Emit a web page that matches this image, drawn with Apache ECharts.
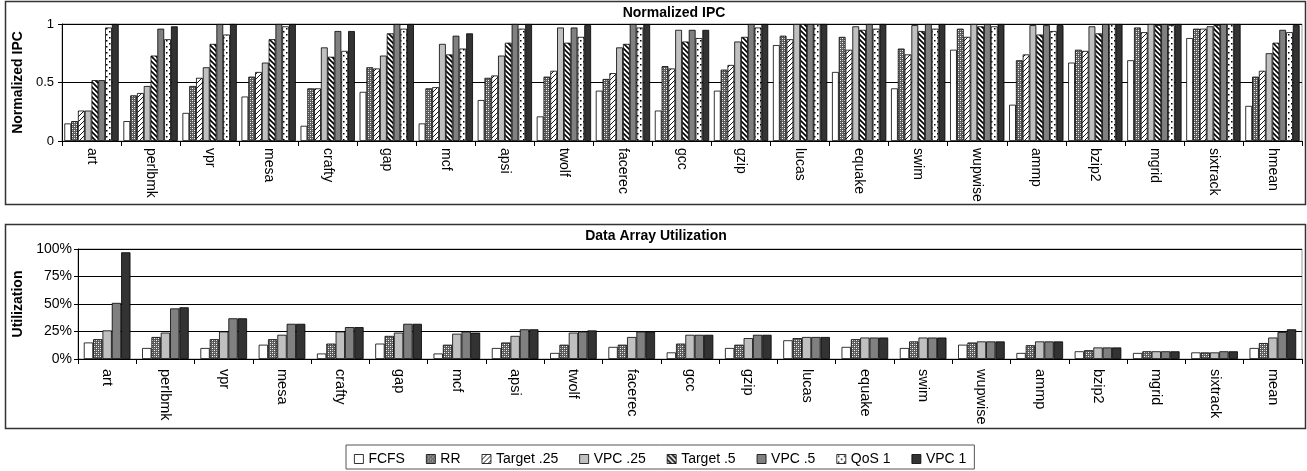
<!DOCTYPE html>
<html><head><meta charset="utf-8">
<script src="https://cdn.jsdelivr.net/npm/echarts@6/dist/echarts.min.js"></script>
<style>html,body{margin:0;padding:0;background:#fff}#c{width:1307px;height:471px}</style>
</head><body><div id="c"></div>
<script>
const categoriesIPC = ['art','perlbmk','vpr','mesa','crafty','gap','mcf','apsi','twolf','facerec','gcc','gzip','lucas','equake','swim','wupwise','ammp','bzip2','mgrid','sixtrack','hmean'];
const categoriesUtil = ['art','perlbmk','vpr','mesa','crafty','gap','mcf','apsi','twolf','facerec','gcc','gzip','lucas','equake','swim','wupwise','ammp','bzip2','mgrid','sixtrack','mean'];
const seriesNames = ['FCFS','RR','Target .25','VPC .25','Target .5','VPC .5','QoS 1','VPC 1'];
const ipcTicks = [0, 0.5, 1];
const utilTicks = [0, 25, 50, 75, 100];

const ipcFCFS     = [0.15,0.17,0.24,0.38,0.13,0.42,0.15,0.35,0.21,0.43,0.26,0.43,0.82,0.59,0.45,0.78,0.31,0.67,0.69,0.88,0.30];
const ipcRR       = [0.17,0.39,0.47,0.55,0.45,0.63,0.45,0.54,0.55,0.53,0.64,0.61,0.90,0.89,0.79,0.96,0.69,0.78,0.97,0.96,0.55];
const ipcTarget25 = [0.26,0.41,0.54,0.59,0.45,0.62,0.46,0.56,0.60,0.58,0.62,0.65,0.87,0.78,0.74,0.89,0.74,0.77,0.93,0.96,0.60];
const ipcVPC25    = [0.26,0.47,0.63,0.67,0.80,0.73,0.83,0.73,0.97,0.80,0.95,0.85,1.00,0.98,0.99,1.00,0.99,0.98,1.00,0.98,0.75];
const ipcTarget5  = [0.52,0.73,0.83,0.87,0.72,0.92,0.74,0.84,0.84,0.83,0.85,0.89,1.00,0.95,0.94,0.98,0.91,0.92,0.99,0.99,0.84];
const ipcVPC5     = [0.52,0.96,1.00,1.00,0.94,1.00,0.90,1.00,0.97,1.00,0.95,1.00,1.00,1.00,1.00,1.00,0.99,1.00,1.00,1.00,0.95];
const ipcQoS1     = [0.97,0.87,0.91,0.98,0.77,0.96,0.79,0.96,0.89,0.97,0.88,0.97,1.00,0.96,0.96,0.98,0.94,1.00,0.99,1.00,0.93];
const ipcVPC1     = [1.00,0.98,1.00,1.00,0.94,1.00,0.92,1.00,0.99,1.00,0.95,1.00,1.00,1.00,1.00,1.00,0.99,1.00,1.00,1.00,0.99];

const utilFCFS  = [15,10,10,13,5,14,5,10,5.5,11,6,10,17,11,10,13,5.5,7,5.5,6,10];
const utilRR    = [18,20,18,18,14,21,13,15,13,13,14,13,19,18,16,15,12.5,8,7,6,14.5];
const utilVPC25 = [26,24,25,22,25,24,23,21,24,20,22,19,20,19.5,19.5,16,16,10.5,7,6,19.5];
const utilVPC5  = [51,46,37,32,29,32,25,27,25,25,22,22,20,19.5,19.5,16,16,10.5,7,7,24.5];
const utilVPC1  = [97,47,37,32,29,32,24,27,26,25,22,22,20,19.5,19.5,16,16,10.5,7,7,27];

function pat(size, draw){
  const c=document.createElement('canvas'); c.width=c.height=size;
  const g=c.getContext('2d'); g.fillStyle='#fff'; g.fillRect(0,0,size,size); draw(g,size);
  return {image:c, repeat:'repeat'};
}
const fills = {
  'FCFS':'#ffffff',
  'RR': pat(4,(g)=>{g.fillStyle='#5a5a5a';g.fillRect(0,0,4,4);g.fillStyle='#ffffff';g.fillRect(0,0,1,1);g.fillRect(2,2,1,1);g.fillStyle='#b4b4b4';g.fillRect(2,0,1,1);g.fillRect(0,2,1,1);}),
  'Target .25': pat(5,(g,s)=>{g.strokeStyle='#000';g.lineWidth=0.9;g.beginPath();g.moveTo(-1,s+1);g.lineTo(s+1,-1);g.moveTo(-2,2);g.lineTo(2,-2);g.moveTo(s-2,s+2);g.lineTo(s+2,s-2);g.stroke();}),
  'VPC .25':'#c0c0c0',
  'Target .5': pat(5,(g,s)=>{g.strokeStyle='#000';g.lineWidth=1.6;g.beginPath();g.moveTo(-1,-1);g.lineTo(s+1,s+1);g.moveTo(-2,s-2);g.lineTo(2,s+2);g.moveTo(s-2,-2);g.lineTo(s+2,2);g.stroke();}),
  'VPC .5':'#808080',
  'QoS 1': pat(6,(g)=>{g.fillStyle='#000';g.fillRect(1,1,1.5,1.5);g.fillRect(4,4,1.5,1.5);}),
  'VPC 1':'#333333'
};

const ipcData = [ipcFCFS,ipcRR,ipcTarget25,ipcVPC25,ipcTarget5,ipcVPC5,ipcQoS1,ipcVPC1];
const utilNames = ['FCFS','RR','VPC .25','VPC .5','VPC 1'];
const utilData = [utilFCFS,utilRR,utilVPC25,utilVPC5,utilVPC1];

const font = 'Liberation Sans, Arial, sans-serif';
const series = [];
seriesNames.forEach((n,i)=>series.push({name:n,type:'bar',xAxisIndex:0,yAxisIndex:0,data:ipcData[i],
  barGap:'0%',barCategoryGap:'8%',itemStyle:{color:fills[n],borderColor:'#000',borderWidth:0.8},emphasis:{disabled:true},animation:false}));
utilNames.forEach((n,i)=>series.push({name:n,type:'bar',xAxisIndex:1,yAxisIndex:1,data:utilData[i],
  barGap:'0%',barCategoryGap:'20%',itemStyle:{color:fills[n],borderColor:'#000',borderWidth:0.8},emphasis:{disabled:true},animation:false}));

function xAxis(cats, idx, fs, margin){
  return {type:'category',gridIndex:idx,data:cats,
    axisLine:{lineStyle:{color:'#000',width:1}},
    axisTick:{show:true,length:5,lineStyle:{color:'#000'}},
    axisLabel:{interval:0,rotate:-90,color:'#000',fontFamily:font,fontSize:fs,margin:margin}};
}
const chart = echarts.init(document.getElementById('c'),null,{renderer:'canvas'});
chart.setOption({
  animation:false,
  backgroundColor:'#fff',
  title:[
    {text:'Normalized IPC',left:674,top:6,padding:0,textAlign:'center',textStyle:{fontFamily:font,fontSize:14,fontWeight:'bold',color:'#000'}},
    {text:'Data Array Utilization',left:656,top:229,padding:0,textAlign:'center',textStyle:{fontFamily:font,fontSize:14,fontWeight:'bold',color:'#000'}}
  ],
  graphic:[
    {type:'rect',shape:{x:5.5,y:1.5,width:1300,height:203},style:{fill:'none',stroke:'#333',lineWidth:1.5},z:-1},
    {type:'rect',shape:{x:5.5,y:224.5,width:1300,height:204},style:{fill:'none',stroke:'#333',lineWidth:1.5},z:-1}
  ],
  legend:{data:seriesNames,top:445,left:346,itemWidth:9,itemHeight:9,itemGap:21,
    borderColor:'#555',borderWidth:1,padding:[7,8,3,8],
    textStyle:{fontFamily:font,fontSize:14,color:'#000'},
    itemStyle:{borderColor:'#000',borderWidth:0.8}, icon:'rect', selectedMode:false},
  grid:[
    {left:62,top:24,right:5,height:117,show:true,borderColor:'#999',borderWidth:1,containLabel:false},
    {left:78,top:249,right:5,height:110,show:true,borderColor:'#999',borderWidth:1,containLabel:false}
  ],
  xAxis:[xAxis(categoriesIPC,0,14,7), xAxis(categoriesUtil,1,14.5,10)],
  yAxis:[
    {type:'value',gridIndex:0,min:ipcTicks[0],max:ipcTicks[ipcTicks.length-1],interval:0.5,
      name:'Normalized IPC',nameLocation:'middle',nameGap:37,nameRotate:90,
      nameTextStyle:{fontFamily:font,fontSize:14,fontWeight:'bold',color:'#000'},
      axisLine:{show:true,lineStyle:{color:'#000'}},axisTick:{show:true,length:4,lineStyle:{color:'#000'}},
      axisLabel:{color:'#000',fontFamily:font,fontSize:13,margin:8,formatter:v=>String(v)},
      splitLine:{lineStyle:{color:'#000',width:1}}},
    {type:'value',gridIndex:1,min:utilTicks[0],max:utilTicks[utilTicks.length-1],interval:25,
      name:'Utilization',nameLocation:'middle',nameGap:53,nameRotate:90,
      nameTextStyle:{fontFamily:font,fontSize:14,fontWeight:'bold',color:'#000'},
      axisLine:{show:true,lineStyle:{color:'#000'}},axisTick:{show:true,length:4,lineStyle:{color:'#000'}},
      axisLabel:{color:'#000',fontFamily:font,fontSize:14,margin:6,formatter:v=>v+'%'},
      splitLine:{lineStyle:{color:'#000',width:1}}}
  ],
  series:series
});
</script></body></html>
